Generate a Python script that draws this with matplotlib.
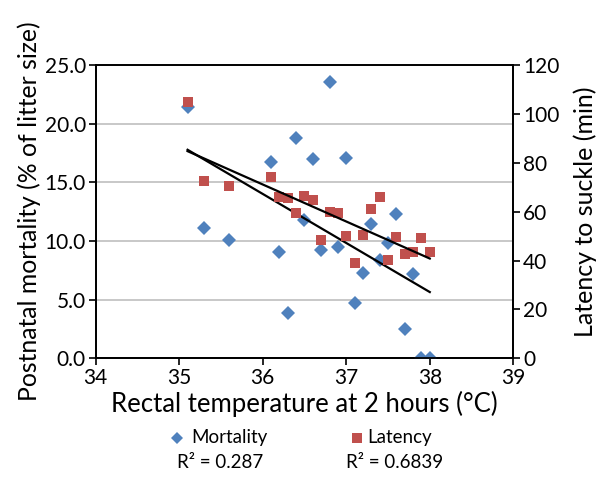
import numpy as np
import matplotlib
matplotlib.use("Agg")
import matplotlib.pyplot as plt
from matplotlib.lines import Line2D
from matplotlib.ticker import MultipleLocator, FormatStrFormatter

plt.rcParams['font.family'] = ['Lato', 'DejaVu Sans']

# Rectal temperature at 2 hours (°C)
temp = [35.1, 35.3, 35.6, 36.1, 36.2, 36.3, 36.4, 36.5, 36.6, 36.7, 36.8, 36.9,
        37.0, 37.1, 37.2, 37.3, 37.4, 37.5, 37.6, 37.7, 37.8, 37.9, 38.0]
# Postnatal mortality (% of litter size)
mortality = [21.45, 11.13, 10.1, 16.71, 9.09, 3.84, 18.75, 11.79, 16.99, 9.23, 23.58, 9.51,
             17.05, 4.74, 7.24, 11.45, 8.38, 9.80, 12.28, 2.50, 7.19, 0.0, 0.0]
# Latency to suckle (min)
latency = [105.0, 72.7, 70.6, 74.1, 66.1, 65.7, 59.3, 66.5, 64.8, 48.4, 60.0, 59.3,
           50.0, 38.9, 50.4, 61.2, 66.1, 40.2, 49.8, 42.7, 43.4, 49.1, 43.6]

r2_labels = ["R\u00b2 = 0.287", "R\u00b2 = 0.6839"]
series_names = ["Mortality", "Latency"]

blue = "#4F81BD"
red = "#C0504D"

fig = plt.figure(figsize=(5.97, 4.80), dpi=100)
ax1 = fig.add_axes([0.1603, 0.2535, 0.6995, 0.6111])
ax2 = ax1.twinx()

# grid on the primary axis
ax1.set_xlim(34, 39)
ax1.set_ylim(0, 25)
ax2.set_ylim(0, 120)
ax1.xaxis.set_major_locator(MultipleLocator(1))
ax1.yaxis.set_major_locator(MultipleLocator(5))
ax1.yaxis.set_major_formatter(FormatStrFormatter('%.1f'))
ax2.yaxis.set_major_locator(MultipleLocator(20))
ax1.yaxis.grid(True, color="#BFBFBF", linewidth=1.2)
ax1.set_axisbelow(True)

for ax in (ax1, ax2):
    for s in ax.spines.values():
        s.set_linewidth(1.3)
        s.set_color("black")
ax1.spines['top'].set_color("#222222")

ax1.tick_params(axis='both', direction='out', length=5, width=1.2, labelsize=15, pad=2)
ax2.tick_params(axis='y', direction='out', length=5, width=1.2, labelsize=15, pad=2)

# trendlines (least squares)
t = np.array(temp)
xs = np.array([min(temp), max(temp)])
pm = np.polyfit(t, mortality, 1)
pl = np.polyfit(t, latency, 1)

ax1.plot(temp, mortality, linestyle='none', marker='D', markersize=7,
         color=blue, markeredgewidth=0, zorder=3)
ax2.plot(temp, latency, linestyle='none', marker='s', markersize=7.2,
         color=red, markeredgewidth=0, zorder=3)
ax1.plot(xs, np.polyval(pm, xs), color="black", linewidth=1.6, zorder=4)
ax2.plot(xs, np.polyval(pl, xs), color="black", linewidth=1.6, zorder=4)

ax1.set_xlabel("Rectal temperature at 2 hours (\u00b0C)", fontsize=18.5, labelpad=2)
ax1.set_ylabel("Postnatal mortality (% of litter size)", fontsize=17.8, labelpad=3)
ax2.set_ylabel("Latency to suckle (min)", fontsize=18, labelpad=10)

# legend below the plot
fig.add_artist(Line2D([177 / 597], [1 - 438 / 480], marker='D', markersize=6,
                      color=blue, markeredgewidth=0, transform=fig.transFigure))
fig.add_artist(Line2D([357 / 597], [1 - 438 / 480], marker='s', markersize=7,
                      color=red, markeredgewidth=0, transform=fig.transFigure))
fig.text(191 / 597, 1 - 438 / 480, series_names[0], fontsize=13.5, va='center', ha='left')
fig.text(367 / 597, 1 - 438 / 480, series_names[1], fontsize=13.5, va='center', ha='left')
fig.text(220 / 597, 1 - 462 / 480, r2_labels[0], fontsize=13.5, va='center', ha='center')
fig.text(395 / 597, 1 - 462 / 480, r2_labels[1], fontsize=13.5, va='center', ha='center')

fig.savefig("out.png", dpi=100)
